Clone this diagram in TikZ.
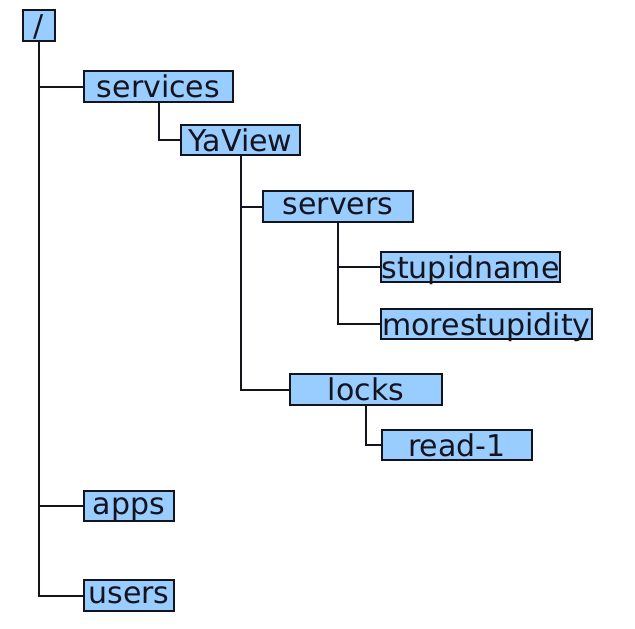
\documentclass[tikz,border=0pt]{standalone}
\usepackage{fontspec}
\setmainfont{DejaVu Sans}
\definecolor{boxfill}{RGB}{153,204,255}
\definecolor{ink}{RGB}{20,20,30}
\begin{document}
\begin{tikzpicture}[x=1pt,y=-1pt,
  dirbox/.style={draw=ink, line width=2pt, fill=boxfill, text=ink, inner sep=0pt,
    font=\fontsize{30}{30}\selectfont, text depth=0pt},
  link/.style={draw=ink, line width=2pt}]
\useasboundingbox (0,0) rectangle (635,629);
\node[dirbox, minimum width=32, minimum height=31] (root) at (39,25.5) {/};
\node[dirbox, minimum width=149, minimum height=31] (services) at (158.5,86.5) {services};
\node[dirbox, minimum width=119, minimum height=30] (yaview) at (240.5,140) {YaView};
\node[dirbox, minimum width=150, minimum height=31] (servers) at (338,206.5) {servers};
\node[dirbox, minimum width=179, minimum height=30] (stupid) at (470.5,267) {stupidname};
\node[dirbox, minimum width=211, minimum height=30] (more) at (486.5,324) {morestupidity};
\node[dirbox, minimum width=152, minimum height=31] (locks) at (366,389.5) {locks};
\node[dirbox, minimum width=150, minimum height=30] (read) at (457,445) {read-1};
\node[dirbox, minimum width=90, minimum height=30] (apps) at (129,506) {apps};
\node[dirbox, minimum width=90, minimum height=31] (users) at (129,595.5) {users};
\draw[link] (root.south) |- (services.west);
\draw[link] (root.south) |- (apps.west);
\draw[link] (root.south) |- (users.west);
\draw[link] (services.south) |- (yaview.west);
\draw[link] (yaview.south) |- (servers.west);
\draw[link] (yaview.south) |- (locks.west);
\draw[link] (servers.south) |- (stupid.west);
\draw[link] (servers.south) |- (more.west);
\draw[link] (locks.south) |- (read.west);
\end{tikzpicture}
\end{document}
